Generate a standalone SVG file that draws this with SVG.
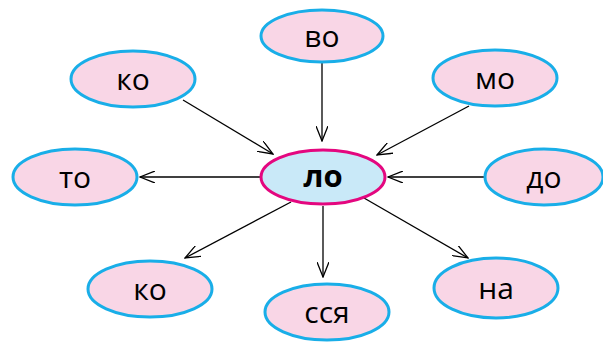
<svg xmlns="http://www.w3.org/2000/svg" width="603" height="346" viewBox="0 0 603 346">
<style>
.n ellipse{fill:#f9d6e6;stroke:#19aee8;stroke-width:3}
.c ellipse{fill:#c9e9f8;stroke:#e4077f;stroke-width:3}
text{font-family:"Open Sans","Noto Sans",sans-serif;font-size:30px;fill:#000;text-anchor:middle;dominant-baseline:central}
.c text{font-weight:bold;font-size:31px}
#edges line{stroke:#000;stroke-width:1.3;marker-end:url(#ah)}
</style>
<defs>
<marker id="ah" viewBox="0 0 16 12" refX="15" refY="6" markerWidth="16" markerHeight="12" markerUnits="userSpaceOnUse" orient="auto">
<path d="M0,0 L15,6 L0,12" fill="none" stroke="#000" stroke-width="1.3"/>
</marker>
</defs>
<g id="edges">
<line x1="183" y1="100" x2="273" y2="154"/>
<line x1="322" y1="62" x2="322" y2="141"/>
<line x1="469" y1="106" x2="377" y2="155"/>
<line x1="261" y1="177" x2="140" y2="177"/>
<line x1="484" y1="177" x2="388" y2="177"/>
<line x1="291" y1="202" x2="185" y2="258"/>
<line x1="323" y1="206" x2="323" y2="277"/>
<line x1="364" y1="198" x2="468" y2="258"/>
</g>
<g id="n-vo" class="n"><ellipse cx="322" cy="36" rx="61" ry="26"/><text x="322" y="35">во</text></g>
<g id="n-ko1" class="n"><ellipse cx="133" cy="79" rx="62" ry="28"/><text x="133" y="78">ко</text></g>
<g id="n-mo" class="n"><ellipse cx="495" cy="78" rx="62" ry="28"/><text x="495" y="77">мо</text></g>
<g id="n-to" class="n"><ellipse cx="75" cy="177" rx="62" ry="28"/><text x="75" y="176">то</text></g>
<g id="n-do" class="n"><ellipse cx="544" cy="177" rx="59" ry="28"/><text x="544" y="176">до</text></g>
<g id="n-ko2" class="n"><ellipse cx="150" cy="289" rx="62" ry="28"/><text x="150" y="288">ко</text></g>
<g id="n-ssya" class="n"><ellipse cx="327" cy="312" rx="62" ry="28"/><text x="327" y="311">сся</text></g>
<g id="n-na" class="n"><ellipse cx="496" cy="288" rx="62" ry="30"/><text x="496" y="287">на</text></g>
<g id="n-lo" class="c"><ellipse cx="323" cy="177" rx="62" ry="27"/><text x="323" y="175">ло</text></g>
</svg>
